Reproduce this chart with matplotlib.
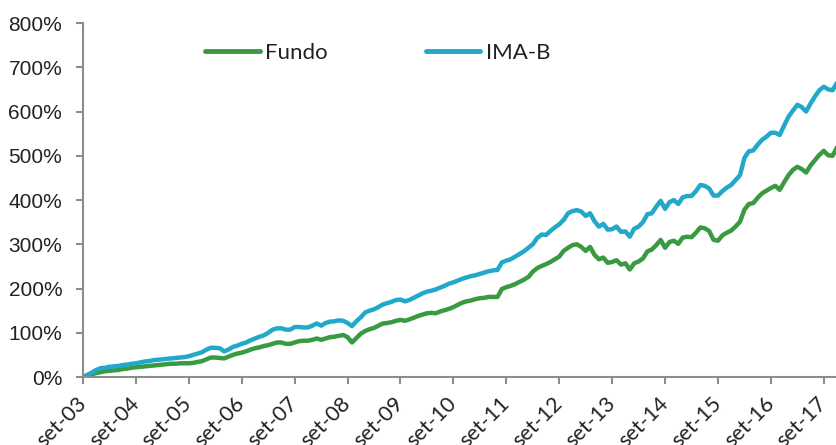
import matplotlib
matplotlib.use("Agg")
import matplotlib.pyplot as plt
import matplotlib.transforms as mtransforms
import numpy as np

# Monthly cumulative returns (%), from set-03 to dez-17
fundo = [0, 3, 6, 9, 11, 13, 14, 15, 16, 18, 19, 21, 22, 23, 24, 25, 26, 27, 28, 29,
         30, 30, 31, 31, 31, 32, 34, 36, 40, 44, 44, 43, 42, 46, 50, 53, 55, 58, 62, 65,
         67, 70, 72, 75, 78, 78, 75, 75, 78, 81, 82, 82, 84, 87, 84, 87, 90, 91, 93, 95,
         90, 78, 88, 98, 104, 108, 111, 116, 121, 122, 124, 127, 129, 127, 130, 134, 138, 141, 144, 145,
         144, 148, 151, 154, 158, 163, 168, 171, 173, 176, 178, 179, 181, 181, 181, 199, 203, 206, 210, 215,
         220, 226, 238, 246, 251, 255, 260, 266, 272, 285, 292, 298, 300, 294, 285, 294, 276, 266, 270, 258,
         260, 264, 254, 257, 243, 257, 261, 268, 284, 288, 298, 310, 292, 305, 308, 301, 315, 317, 316, 326,
         338, 336, 330, 310, 308, 320, 326, 331, 340, 351, 378, 391, 393, 405, 415, 421, 427, 432, 423, 440,
         456, 468, 475, 470, 462, 478, 490, 502, 511, 501, 500, 519]

imab = [0, 5, 10, 16, 20, 21, 23, 24, 25, 27, 28, 30, 31, 33, 35, 36, 38, 39, 40, 41,
        42, 43, 44, 45, 47, 50, 53, 56, 62, 66, 66, 65, 58, 62, 68, 71, 75, 78, 83, 87,
        91, 94, 100, 107, 110, 110, 107, 107, 113, 113, 112, 112, 116, 121, 116, 122, 125, 126, 128, 127,
        122, 115, 126, 135, 146, 150, 153, 158, 164, 167, 170, 174, 175, 171, 174, 179, 184, 189, 193, 195,
        198, 202, 206, 211, 214, 218, 222, 225, 228, 230, 233, 236, 239, 241, 242, 259, 263, 266, 272, 278,
        284, 292, 300, 314, 322, 321, 330, 338, 345, 355, 370, 375, 377, 374, 364, 370, 352, 340, 346, 333,
        334, 340, 328, 329, 317, 335, 340, 350, 368, 370, 385, 398, 380, 395, 400, 391, 406, 409, 409, 420,
        434, 432, 426, 410, 410, 420, 428, 434, 445, 456, 495, 510, 512, 525, 536, 543, 552, 552, 547, 568,
        588, 602, 615, 610, 600, 618, 634, 648, 656, 650, 648, 665]

tick_labels = ["set-03", "set-04", "set-05", "set-06", "set-07", "set-08", "set-09", "set-10",
               "set-11", "set-12", "set-13", "set-14", "set-15", "set-16", "set-17"]
y_ticks = [0, 100, 200, 300, 400, 500, 600, 700, 800]

series_names = ["Fundo", "IMA-B"]
colors = ["#3A9A42", "#22A8C9"]

fig = plt.figure(figsize=(8.37, 4.45), dpi=100)
ax = fig.add_axes([0.0992, 0.1528, 0.9008, 0.7955])

x = np.arange(len(fundo))
ax.plot(x, fundo, color=colors[0], lw=3.2, label=series_names[0], solid_capstyle="round")
ax.plot(x, imab, color=colors[1], lw=3.2, label=series_names[1], solid_capstyle="round")

ax.set_xlim(0, len(fundo) - 1)
ax.set_ylim(0, 800)

ax.set_yticks(y_ticks)
ax.set_yticklabels([f"{v}%" for v in y_ticks], fontsize=15, family="Liberation Sans", color="#222222")
ax.set_xticks(np.arange(len(tick_labels)) * 12)
ax.set_xticklabels(tick_labels, rotation=45, ha="right", va="center", rotation_mode="anchor",
                   fontsize=15.5, family="Lato", color="#222222")
offset = mtransforms.ScaledTranslation(7 / 72, 0, fig.dpi_scale_trans)
for lbl in ax.get_xticklabels():
    lbl.set_transform(lbl.get_transform() + offset)

for s in ["top", "right"]:
    ax.spines[s].set_visible(False)
for s in ["left", "bottom"]:
    ax.spines[s].set_color("#8c8c8c")
    ax.spines[s].set_linewidth(1.5)
ax.tick_params(axis="both", color="#8c8c8c", width=1.5, length=5, direction="out")
ax.tick_params(axis="y", pad=10)
ax.tick_params(axis="x", pad=12)

leg = ax.legend(loc="center left", bbox_to_anchor=(0.162, 0.915), ncol=2, frameon=False,
                prop={"family": "Lato", "size": 16}, handlelength=2.45,
                handletextpad=0.25, columnspacing=4.4, borderpad=0, borderaxespad=0)
for line in leg.get_lines():
    line.set_linewidth(3.5)
for t in leg.get_texts():
    t.set_color("#222222")

fig.savefig("out.png", dpi=100)
